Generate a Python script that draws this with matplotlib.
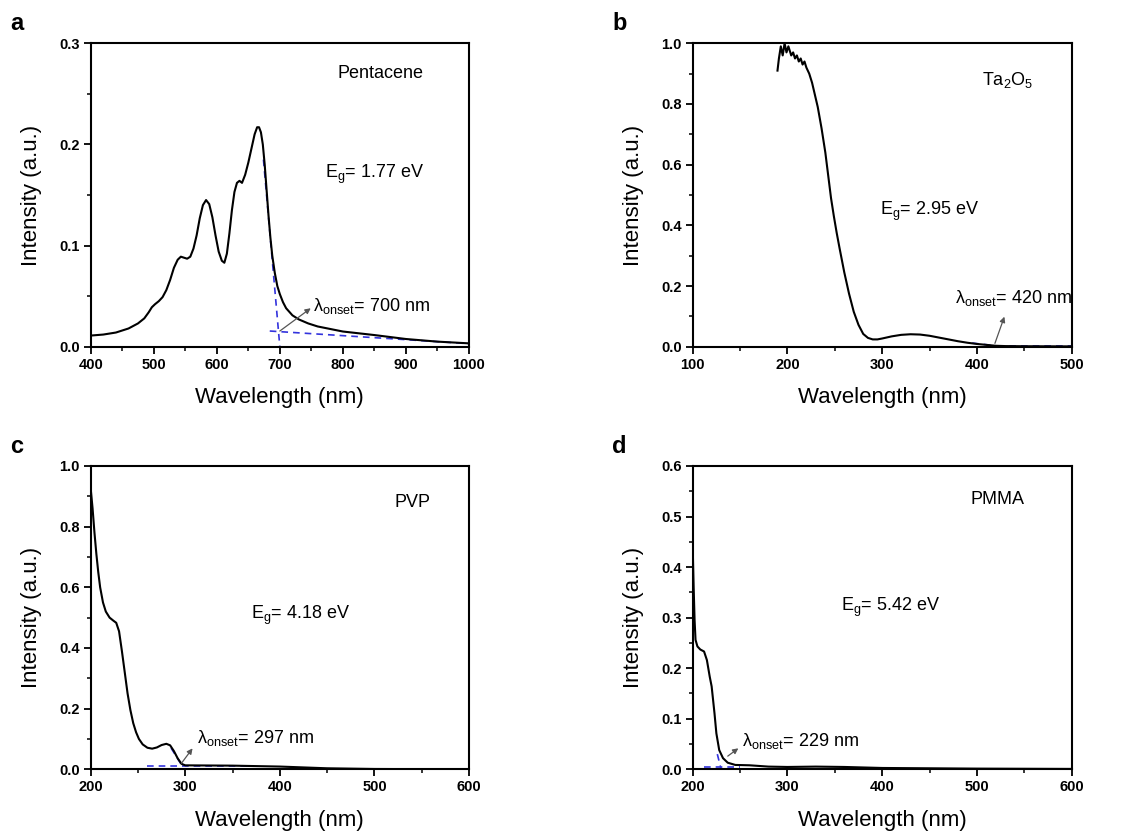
import numpy as np
import matplotlib.pyplot as plt
from matplotlib.ticker import MultipleLocator

plt.rcParams['font.family'] = ['Liberation Sans', 'DejaVu Sans']
plt.rcParams['mathtext.fontset'] = 'custom'
plt.rcParams['mathtext.rm'] = 'Liberation Sans'

# panel a: pentacene
wl_a = [400, 420, 440, 460, 475, 485, 492, 497, 502, 508, 514, 520, 526, 532, 538, 543, 548,
        553, 558, 563, 568, 573, 578, 583, 588, 593, 598, 603, 608, 612, 616, 620, 624, 628,
        632, 636, 640, 645, 650, 655, 660, 664, 667, 670, 673, 676, 679, 682, 685, 688, 692,
        696, 700, 705, 710, 720, 730, 745, 760, 780, 800, 850, 900, 950, 1000]
int_a = [0.011, 0.012, 0.014, 0.018, 0.023, 0.028, 0.034, 0.039, 0.042, 0.045, 0.049, 0.056,
         0.066, 0.078, 0.086, 0.089, 0.088, 0.087, 0.089, 0.097, 0.110, 0.127, 0.140, 0.145,
         0.141, 0.128, 0.110, 0.094, 0.085, 0.083, 0.092, 0.112, 0.135, 0.153, 0.162, 0.164,
         0.162, 0.170, 0.182, 0.196, 0.210, 0.217, 0.217, 0.212, 0.200, 0.180, 0.155, 0.130,
         0.108, 0.090, 0.073, 0.060, 0.052, 0.044, 0.038, 0.031, 0.027, 0.023, 0.020, 0.0175,
         0.015, 0.0115, 0.0076, 0.005, 0.0033]

# panel b: Ta2O5
wl_b = [189.5, 191, 193, 195, 197, 199, 201, 204, 206, 208, 210, 212, 214, 216, 218, 220, 223,
        226, 229, 232, 236, 240, 243, 246, 249, 252, 255, 260, 265, 270, 275, 280, 285, 290,
        295, 300, 310, 320, 330, 340, 350, 360, 370, 380, 390, 400, 410, 420, 430, 450, 500]
int_b = [0.91, 0.95, 0.99, 0.96, 1.0, 0.97, 0.99, 0.96, 0.97, 0.95, 0.96, 0.94, 0.95, 0.93,
         0.94, 0.92, 0.90, 0.87, 0.83, 0.79, 0.72, 0.64, 0.565, 0.49, 0.43, 0.375, 0.325,
         0.245, 0.175, 0.115, 0.072, 0.042, 0.029, 0.024, 0.024, 0.027, 0.034, 0.039, 0.041,
         0.040, 0.036, 0.030, 0.024, 0.018, 0.013, 0.009, 0.006, 0.003, 0.002, 0.0015, 0.001]

# panel c: PVP
wl_c = [200, 202, 204, 206, 208, 210, 213, 216, 220, 224, 227, 230, 233, 236, 239, 242, 245,
        248, 251, 255, 260, 265, 270, 275, 280, 284, 288, 292, 296, 300, 350, 400, 450, 500,
        600]
int_c = [0.926, 0.86, 0.78, 0.71, 0.65, 0.60, 0.55, 0.52, 0.500, 0.490, 0.483, 0.455, 0.39,
         0.32, 0.25, 0.195, 0.152, 0.122, 0.100, 0.082, 0.071, 0.068, 0.072, 0.080, 0.084,
         0.079, 0.060, 0.036, 0.018, 0.013, 0.012, 0.009, 0.0033, 0.001, 0.0]

# panel d: PMMA
wl_d = [200, 201, 202, 203, 205, 208, 212, 215, 218, 220, 223, 225, 228, 232, 237, 245, 260,
        280, 300, 330, 360, 400, 500, 600]
int_d = [0.44, 0.361, 0.295, 0.256, 0.243, 0.237, 0.233, 0.216, 0.183, 0.164, 0.111, 0.071,
         0.038, 0.022, 0.013, 0.0086, 0.0079, 0.0053, 0.0046, 0.0053, 0.0046, 0.0026, 0.0013,
         0.0007]

# tangent lines (x pairs, y pairs)
tan_a = [([674, 700], [0.185, 0.0]), ([684, 1000], [0.0155, 0.003])]
tan_b = [([395, 428], [0.012, 0.0]), ([410, 500], [0.002, 0.002])]
tan_c = [([285, 298], [0.07, 0.005]), ([260, 370], [0.012, 0.012])]
tan_d = [([226, 230], [0.03, 0.0]), ([212, 250], [0.005, 0.005])]

panels = [
    dict(pos=[0.0799, 0.5853, 0.3333, 0.3629], wl=wl_a, y=int_a, xlim=(400, 1000), ylim=(0, 0.3),
         xmaj=100, ymaj=0.1, ymin=0.05, tan=tan_a, letter='a',
         name='Pentacene', name_xy=(792, 0.270), eg='E$_\\mathregular{g}$= 1.77 eV', eg_xy=(771, 0.170),
         onset='λ$_\\mathregular{onset}$= 700 nm', onset_xy=(752, 0.040),
         arrow=((700, 0.0155), (749, 0.038))),
    dict(pos=[0.6103, 0.5853, 0.3339, 0.3629], wl=wl_b, y=int_b, xlim=(100, 500), ylim=(0, 1.0),
         xmaj=100, ymaj=0.2, ymin=0.1, tan=tan_b, letter='b',
         name='Ta$_\\mathregular{2}$O$_\\mathregular{5}$', name_xy=(405, 0.88),
         eg='E$_\\mathregular{g}$= 2.95 eV', eg_xy=(297.7, 0.447),
         onset='λ$_\\mathregular{onset}$= 420 nm', onset_xy=(377, 0.16),
         arrow=((419, 0.011), (429, 0.099))),
    dict(pos=[0.0799, 0.0798, 0.3333, 0.3628], wl=wl_c, y=int_c, xlim=(200, 600), ylim=(0, 1.0),
         xmaj=100, ymaj=0.2, ymin=0.1, tan=tan_c, letter='c',
         name='PVP', name_xy=(521.5, 0.879), eg='E$_\\mathregular{g}$= 4.18 eV', eg_xy=(369, 0.508),
         onset='λ$_\\mathregular{onset}$= 297 nm', onset_xy=(312, 0.102),
         arrow=((296, 0.02), (307.7, 0.069))),
    dict(pos=[0.6103, 0.0798, 0.3339, 0.3628], wl=wl_d, y=int_d, xlim=(200, 600), ylim=(0, 0.6),
         xmaj=100, ymaj=0.1, ymin=0.05, tan=tan_d, letter='d',
         name='PMMA', name_xy=(492.7, 0.534), eg='E$_\\mathregular{g}$= 5.42 eV', eg_xy=(357, 0.32),
         onset='λ$_\\mathregular{onset}$= 229 nm', onset_xy=(251.7, 0.056),
         arrow=((237, 0.026), (248.2, 0.0415))),
]

fig = plt.figure(figsize=(11.35, 8.36), dpi=100)

for p in panels:
    ax = fig.add_axes(p['pos'])
    for tx, ty in p['tan']:
        ax.plot(tx, ty, color='#3333dd', lw=1.2, ls=(0, (4, 3)), zorder=2)
    ax.plot(p['wl'], p['y'], color='black', lw=1.5, zorder=3)
    ax.set_xlim(*p['xlim'])
    ax.set_ylim(*p['ylim'])
    ax.xaxis.set_major_locator(MultipleLocator(p['xmaj']))
    ax.xaxis.set_minor_locator(MultipleLocator(p['xmaj'] / 2))
    ax.yaxis.set_major_locator(MultipleLocator(p['ymaj']))
    ax.yaxis.set_minor_locator(MultipleLocator(p['ymin']))
    ax.yaxis.set_major_formatter(plt.FormatStrFormatter('%.1f'))
    ax.tick_params(which='major', direction='out', length=5, width=1.3, labelsize=10.5, pad=3)
    ax.tick_params(which='minor', direction='out', length=3, width=1.1)
    for lab in ax.get_xticklabels() + ax.get_yticklabels():
        lab.set_fontweight('bold')
    for s in ax.spines.values():
        s.set_linewidth(1.5)
    ax.set_xlabel('Wavelength (nm)', fontsize=16, labelpad=11)
    ax.set_ylabel('Intensity (a.u.)', fontsize=16, labelpad=12)

    ax.text(p['name_xy'][0], p['name_xy'][1], p['name'], fontsize=13, va='center', ha='left')
    ax.text(p['eg_xy'][0], p['eg_xy'][1], p['eg'], fontsize=13, va='center', ha='left')
    ax.text(p['onset_xy'][0], p['onset_xy'][1], p['onset'], fontsize=13, va='center', ha='left')
    (x0, y0), (x1, y1) = p['arrow']
    ax.annotate('', xy=(x1, y1), xytext=(x0, y0),
                arrowprops=dict(arrowstyle='-|>', color='#555555', lw=0.9,
                                mutation_scale=8, shrinkA=0, shrinkB=0))

    bb = p['pos']
    fig.text(bb[0] - 0.071, bb[1] + bb[3] + 0.0156, p['letter'], fontsize=17,
             fontweight='bold', va='baseline', ha='left')

fig.savefig('out.png', dpi=100)
